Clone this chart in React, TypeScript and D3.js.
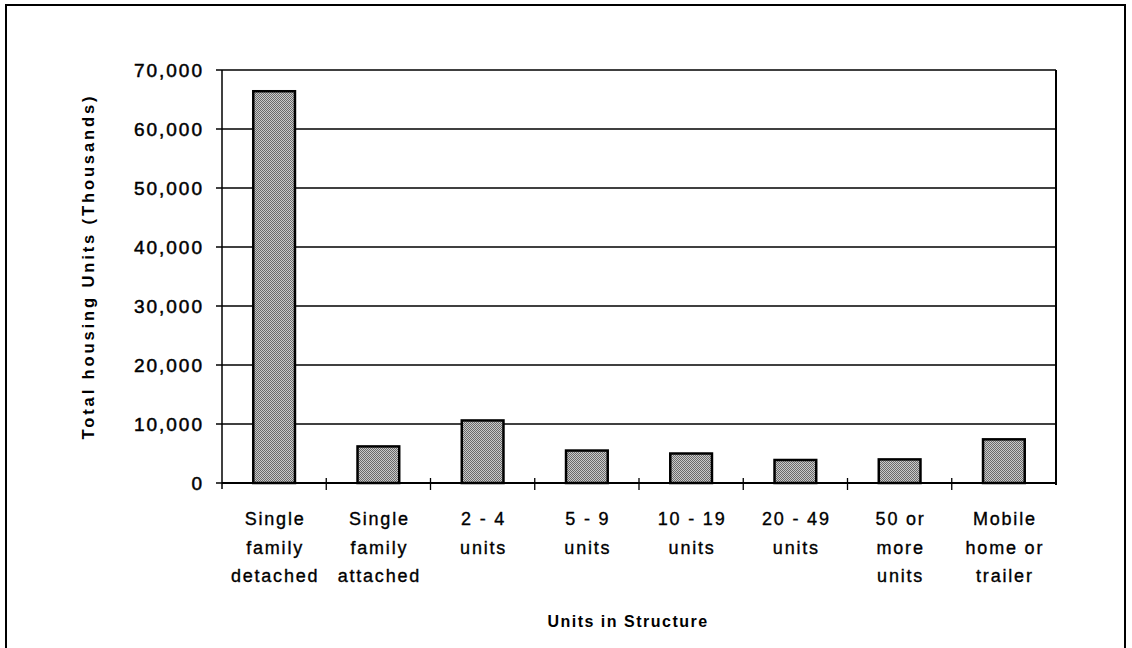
import React from "react";
import * as d3 from "d3";

const categories: string[][] = [
  ["Single", "family", "detached"],
  ["Single", "family", "attached"],
  ["2 - 4", "units"],
  ["5 - 9", "units"],
  ["10 - 19", "units"],
  ["20 - 49", "units"],
  ["50 or", "more", "units"],
  ["Mobile", "home or", "trailer"],
];
const values: number[] = [66400, 6200, 10600, 5500, 5000, 3900, 4000, 7400];
const yTicks: number[] = [0, 10000, 20000, 30000, 40000, 50000, 60000, 70000];
const yTitle = "Total housing Units (Thousands)";
const xTitle = "Units in Structure";

const W = 1132;
const H = 648;
const left = 222;
const right = 1056;
const top = 70;
const bottom = 483;

export default function App() {
  const keys = categories.map((_, i) => String(i));
  const x = d3.scaleBand<string>().domain(keys).range([left, right]).paddingInner(0.6).paddingOuter(0.3);
  const band = d3.scaleBand<string>().domain(keys).range([left, right]).padding(0);
  const y = d3.scaleLinear().domain([0, 70000]).range([bottom, top]);
  const fmt = d3.format(",");
  const font = "'Liberation Sans', Arial, Helvetica, sans-serif";

  return (
    <svg
      width={W}
      height={H}
      style={{ position: "absolute", left: 0, top: 0, background: "#fff" }}
      fontFamily={font}
    >
      <defs>
        <pattern id="stip" width={2} height={2} patternUnits="userSpaceOnUse">
          <rect width={2} height={2} fill="#cacaca" />
          <rect x={0} y={0} width={1} height={1} fill="#6a6a6a" />
          <rect x={1} y={1} width={1} height={1} fill="#6a6a6a" />
        </pattern>
      </defs>
      <rect x={6} y={5} width={1119} height={680} fill="none" stroke="#000" strokeWidth={2} />

      {/* gridlines */}
      {yTicks.map((t) => (
        <line key={"g" + t} x1={left - 6} x2={right} y1={y(t)} y2={y(t)} stroke="#000" strokeWidth={1.3} />
      ))}
      {yTicks.map((t) => (
        <text
          key={"t" + t}
          x={204}
          y={y(t)}
          dy="0.36em"
          textAnchor="end"
          fontSize={19}
          letterSpacing={2}
          fill="#000"
          stroke="#000"
          strokeWidth={0.5}
        >
          {fmt(t)}
        </text>
      ))}
      {/* axes */}
      <line x1={left} x2={left} y1={top} y2={bottom + 6} stroke="#000" strokeWidth={1.5} />
      <line x1={right} x2={right} y1={top} y2={bottom + 2} stroke="#000" strokeWidth={2} />
      <line x1={left} x2={right} y1={bottom} y2={bottom} stroke="#000" strokeWidth={1.8} />
      {keys.slice(1).map((k) => (
        <line key={"xt" + k} x1={band(k)!} x2={band(k)!} y1={bottom - 5} y2={bottom + 7} stroke="#000" strokeWidth={1.3} />
      ))}

      {/* bars */}
      {values.map((v, i) => (
        <rect
          key={"b" + i}
          x={x(String(i))!}
          y={y(v)}
          width={x.bandwidth()}
          height={y(0) - y(v)}
          fill="url(#stip)"
          stroke="#000"
          strokeWidth={2.5}
        />
      ))}

      {/* category labels */}
      {categories.map((lines, i) => (
        <text
          key={"c" + i}
          x={band(String(i))! + band.bandwidth() / 2}
          y={525}
          textAnchor="middle"
          fontSize={18}
          letterSpacing={1.8}
          fill="#000"
          stroke="#000"
          strokeWidth={0.35}
        >
          {lines.map((l, j) => (
            <tspan key={j} x={band(String(i))! + band.bandwidth() / 2 + 1} dy={j === 0 ? 0 : 28.5}>
              {l}
            </tspan>
          ))}
        </text>
      ))}

      <text
        x={628}
        y={627}
        textAnchor="middle"
        fontSize={16}
        fontWeight="bold"
        letterSpacing={1.5}
        fill="#000"
      >
        {xTitle}
      </text>
      <text
        transform={`translate(94, 268) rotate(-90)`}
        textAnchor="middle"
        fontSize={16.5}
        fontWeight="bold"
        textLength={343}
        lengthAdjust="spacing"
        fill="#000"
      >
        {yTitle}
      </text>
    </svg>
  );
}
